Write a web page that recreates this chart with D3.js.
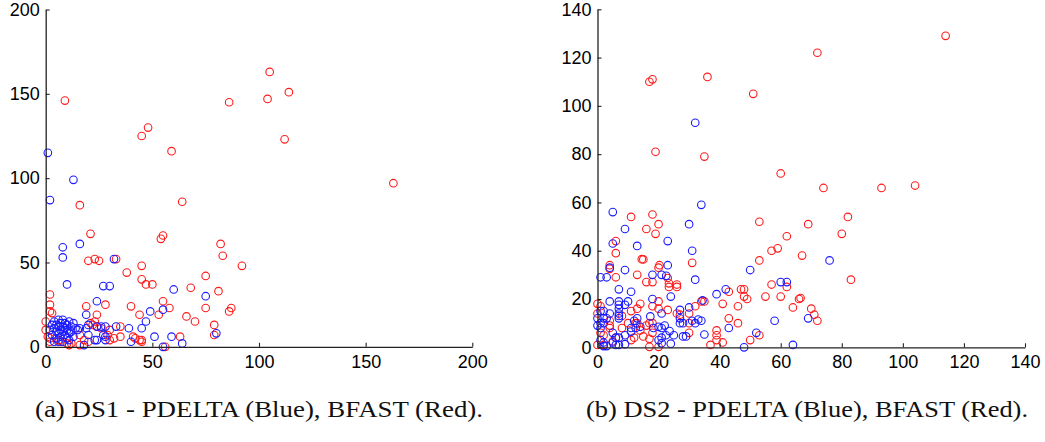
<!DOCTYPE html>
<html>
<head>
<meta charset="utf-8">
<script src="https://cdn.jsdelivr.net/npm/d3@7"></script>
<style>
  body { margin: 0; background: #fff; }
  svg { display: block; }
</style>
</head>
<body>
<div id="chart"></div>
<script>
// DS1 - PDELTA (blue) and BFAST (red), [x, y]
const ds1Blue = [
  [1,115],[13,99],[2,87],[16,61],[8,59],[8,53],[32,52],[10,37],[27,36],[30,36],[60,34],[75,30],
  [24,27],[55,22],[49,21],[19,19],[47,15],[80,8],[39,11],[45,11],[51,6],[59,6],[40,3],[64,2],
  [55,0],[33,12],[28,4],[24,4],[18,1],[6,3],[19,11],[20,13],[24,12],[26,12],[28,12],[27,7],
  [28,6],[15,10],[16,11],[20,7],[23,4],[2,10],[3,13],[3,7],[4,11],[4,15],[5,9],[5,13],[5,5],
  [6,12],[6,16],[6,8],[7,10],[7,14],[7,6],[8,12],[8,9],[8,16],[9,11],[9,7],[9,14],[10,13],
  [10,10],[10,5],[11,15],[11,8],[12,12],[12,9],[13,14],[13,6],[14,11],[4,3],[8,3],[11,4]
];
const ds1Red = [
  [9,146],[45,125],[48,130],[59,116],[86,145],[105,163],[114,151],[104,147],[112,123],[163,97],
  [92,48],[16,84],[64,86],[21,67],[55,66],[54,64],[20,51],[23,52],[25,51],[33,52],[82,61],
  [83,54],[38,44],[45,48],[45,40],[47,37],[50,37],[68,35],[75,42],[81,33],[2,31],[28,25],
  [19,24],[2,25],[2,21],[3,20],[40,24],[55,27],[58,23],[75,23],[86,21],[87,23],[44,19],[53,19],
  [66,18],[70,15],[79,13],[79,7],[63,6],[41,6],[45,4],[56,0],[35,12],[35,6],[32,5],[30,4],
  [16,7],[18,4],[16,1],[20,3],[12,2],[11,1],[10,2],[6,4],[7,3],[0,15],[0,10],[1,6],[2,5],
  [2,3],[24,19],[23,15],[24,12],[22,13],[21,14],[26,11],[45,3],[30,10],[29,7],[42,5],[44,4]
];

// DS2 - PDELTA (blue) and BFAST (red), [x, y]
const ds2Blue = [
  [32,93],[34,59],[5,56],[30,51],[9,49],[23,44],[5,43],[13,42],[31,40],[23,34],[4,33],[9,32],
  [1,29],[3,29],[18,30],[21,30],[22.5,29.6],[32,28],[50,32],[76,36],[60,27],[62,27],[42,24],
  [39,22],[24,21],[7,24],[11,23],[4,19],[7,19],[7,17.6],[7,16],[10,19],[9,17.6],[18,20],[21,14],
  [27,15.5],[30,16.5],[34.4,19.4],[34,11],[27,12],[27,10],[28,10],[31,11],[32,10],[33,11.5],
  [35,5.3],[29,4.5],[28,4.5],[23.6,6.7],[22.4,5],[25,5],[24,1.5],[21,1.7],[20,3],[21,4],
  [18.3,8],[20,8.5],[21,8],[22,9],[17.3,12.8],[12,11],[13,12],[12.5,8],[11,8],[14,8.5],[11,6.5],
  [9,5],[9,1.3],[5,6],[6,4],[7,4],[5,2],[6,1],[7,1],[2,10],[1,8],[0,9],[0,12],[1,10],[2,12],
  [3,12],[1,15],[2,15],[4,14],[7,12],[7,13],[7,14],[1,3],[2,2],[2,0.5],[3,0.5],[69,12],[58,11],
  [43,8],[52,6],[48,0],[64,1]
];
const ds2Red = [
  [17,110],[18,111],[36,112],[51,105],[19,81],[35,79],[60,72],[72,122],[114,129],[74,66],[93,66],
  [104,67],[82,54],[69,51],[80,47],[67,38],[83,28],[66.5,20.4],[70,16],[71,13.5],[72,11],
  [53,52],[62,46],[57,40],[59,41],[53,36],[62,25],[57,26],[47,24],[48,24],[43,23],[48,21],[49,20],
  [55,21],[60,21],[66,20],[41,18],[46,17],[64,16.5],[43,12],[46,10],[53,5],[50,3],[39,7],[39,5],
  [39,3],[41,2],[37,1],[18,55],[11,54],[20,51],[16,49],[19,47],[6,44],[6,39],[15,36.4],[14.5,36.5],
  [31,35],[20,33],[20.3,34],[4,34],[4,32.5],[6,29],[13,30],[18,27],[16,27],[23,28.7],[23.4,26.5],
  [23.4,25],[26,26],[26,25],[14,18],[13,16],[0,18],[1,17],[0,14],[18,17],[20,19],[20,16],
  [23,15.5],[26,14],[27,13.5],[30,14],[34,19],[35,19],[32,17],[30,10],[30,6],[18,6],[17,3.5],
  [20,0.2],[17,0.2],[18,10],[16,9],[17,10],[15,4.5],[14,7],[12.5,10],[13,10],[11,3],[12,4],
  [6,4],[5,2.5],[1,6],[2,5],[0,1],[2,1],[4,9],[4,11],[8,13],[8,8],[10,10],[11,15],[4,8]
];

const ticks1 = [0, 50, 100, 150, 200];
const ticks2x = [0, 20, 40, 60, 80, 100, 120, 140];
const ticks2y = [0, 20, 40, 60, 80, 100, 120, 140];

const captions = [
  "(a) DS1 - PDELTA (Blue), BFAST (Red).",
  "(b) DS2 - PDELTA (Blue), BFAST (Red)."
];

let w = 1045, h = 442;

let svg = d3.select("#chart")
            .append("svg")
            .attr("width", w)
            .attr("height", h)
            .style("background", "#fff");

function drawPanel(opts) {
    let xScale = d3.scaleLinear()
                    .domain(opts.domain)
                    .range([opts.left, opts.right]);
    let yScale = d3.scaleLinear()
                    .domain(opts.domain)
                    .range([opts.bottom, opts.top]);

    let g = svg.append("g");

    //scatter markers, red below blue
    [[opts.red, "#ff1a1a"], [opts.blue, "#1a1aff"]].forEach(([data, col]) => {
        g.append("g")
            .selectAll("circle")
            .data(data)
            .enter()
            .append("circle")
            .attr("cx", d => xScale(d[0]))
            .attr("cy", d => yScale(d[1]))
            .attr("r", 3.8)
            .attr("fill", "none")
            .attr("stroke", col)
            .attr("stroke-width", 1.1);
    });

    let xAxis = d3.axisBottom(xScale)
                    .tickValues(opts.xticks)
                    .tickSizeInner(-4)
                    .tickSizeOuter(0)
                    .tickPadding(8);
    let yAxis = d3.axisLeft(yScale)
                    .tickValues(opts.yticks)
                    .tickSizeInner(-4)
                    .tickSizeOuter(0)
                    .tickPadding(6);

    let ax = g.append("g")
        .attr("transform", `translate(0, ${opts.bottom})`)
        .call(xAxis);
    let ay = g.append("g")
        .attr("transform", `translate(${opts.left}, 0)`)
        .call(yAxis);

    [ax, ay].forEach(a => {
        a.select(".domain").attr("stroke", "#222").attr("stroke-width", 1.3);
        a.selectAll(".tick line").attr("stroke", "#222").attr("stroke-width", 1.1);
        a.selectAll("text")
            .attr("fill", "#000")
            .style("font-family", "'Liberation Sans', Arial, sans-serif")
            .style("font-size", "18px");
    });

    //caption below the panel, stretched to the reference width
    svg.append("text")
        .attr("x", opts.capX)
        .attr("y", 417)
        .attr("text-anchor", "middle")
        .attr("textLength", opts.capW)
        .attr("lengthAdjust", "spacingAndGlyphs")
        .style("font-family", "'Liberation Serif', 'DejaVu Serif', serif")
        .style("font-size", "23px")
        .attr("fill", "#111")
        .text(opts.caption);
}

drawPanel({
    domain: [0, 200], left: 45.7, right: 472.3, top: 9.5, bottom: 346.8,
    xticks: ticks1, yticks: ticks1, blue: ds1Blue, red: ds1Red,
    caption: captions[0], capX: 259, capW: 448
});

drawPanel({
    domain: [0, 140], left: 597.5, right: 1025, top: 9.3, bottom: 347.3,
    xticks: ticks2x, yticks: ticks2y, blue: ds2Blue, red: ds2Red,
    caption: captions[1], capX: 807, capW: 442
});
</script>
</body>
</html>
